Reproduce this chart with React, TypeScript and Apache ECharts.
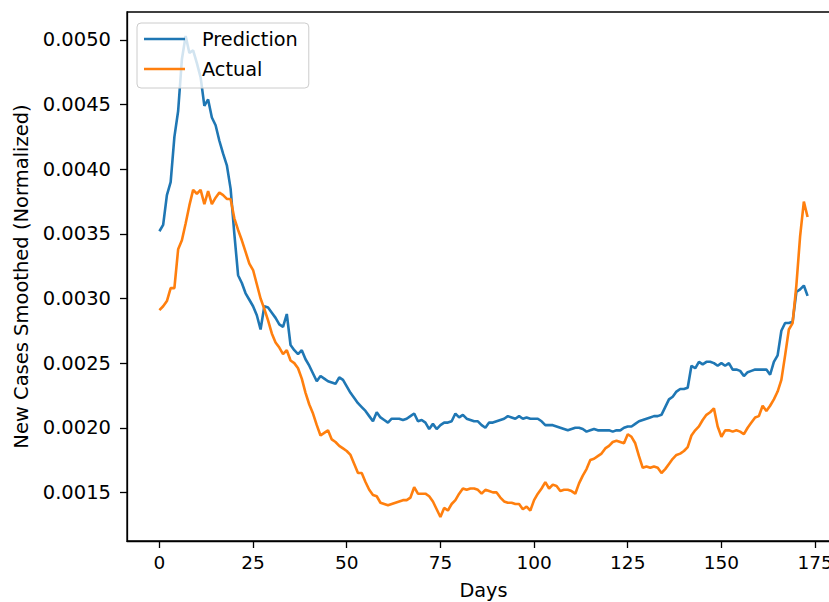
import React, { useEffect, useRef } from "react";
import * as echarts from "echarts";

const prediction: number[] = [
  0.00352, 0.00357, 0.00380, 0.00390, 0.00425, 0.00445, 0.00485, 0.00503, 0.00490, 0.00492,
  0.00482, 0.00471, 0.00449, 0.00454, 0.00440, 0.00434, 0.00422, 0.00412, 0.00403, 0.00385,
  0.00350, 0.00318, 0.00312, 0.00304, 0.00299, 0.00294, 0.00287, 0.00276, 0.00294, 0.00293,
  0.00289, 0.00285, 0.00280, 0.00278, 0.00288, 0.00264, 0.00260, 0.00257, 0.00260, 0.00253,
  0.00248, 0.00242, 0.00236, 0.00240, 0.00238, 0.00236, 0.00235, 0.00234, 0.00239, 0.00237,
  0.00232, 0.00227, 0.00223, 0.00219, 0.00216, 0.00213, 0.00209, 0.00205, 0.00212, 0.00208,
  0.00206, 0.00204, 0.00207, 0.00207, 0.00207, 0.00206, 0.00207, 0.00209, 0.00211, 0.00205,
  0.00206, 0.00204, 0.00199, 0.00203, 0.00199, 0.00202, 0.00204, 0.00204, 0.00205, 0.00211,
  0.00208, 0.00210, 0.00207, 0.00206, 0.00205, 0.00205, 0.00202, 0.00200, 0.00204, 0.00204,
  0.00205, 0.00206, 0.00207, 0.00209, 0.00208, 0.00207, 0.00209, 0.00207, 0.00208, 0.00207,
  0.00207, 0.00207, 0.00205, 0.00202, 0.00202, 0.00202, 0.00201, 0.00200, 0.00199, 0.00198,
  0.00199, 0.00200, 0.00200, 0.00199, 0.00197, 0.00198, 0.00199, 0.00198, 0.00198, 0.00198,
  0.00198, 0.00197, 0.00198, 0.00198, 0.00200, 0.00201, 0.00201, 0.00203, 0.00205, 0.00206,
  0.00207, 0.00208, 0.00209, 0.00209, 0.00210, 0.00216, 0.00222, 0.00224, 0.00228, 0.00230,
  0.00230, 0.00231, 0.00248, 0.00246, 0.00251, 0.00249, 0.00251, 0.00251, 0.00250, 0.00248,
  0.00250, 0.00248, 0.00250, 0.00245, 0.00245, 0.00244, 0.00240, 0.00243, 0.00244, 0.00245,
  0.00245, 0.00245, 0.00245, 0.00241, 0.00251, 0.00256, 0.00275, 0.00281, 0.00281, 0.00282,
  0.00305, 0.00307, 0.00310, 0.00302,
];

const actual: number[] = [
  0.00291, 0.00294, 0.00298, 0.00308, 0.00308, 0.00338, 0.00345, 0.00358, 0.00372, 0.00384,
  0.00381, 0.00384, 0.00373, 0.00383, 0.00373, 0.00378, 0.00382, 0.00380, 0.00377, 0.00377,
  0.00362, 0.00353, 0.00345, 0.00336, 0.00327, 0.00322, 0.00311, 0.00300, 0.00292, 0.00283,
  0.00273, 0.00266, 0.00262, 0.00257, 0.00260, 0.00252, 0.00250, 0.00246, 0.00238, 0.00227,
  0.00218, 0.00211, 0.00202, 0.00194, 0.00196, 0.00198, 0.00191, 0.00189, 0.00186, 0.00184,
  0.00182, 0.00179, 0.00172, 0.00165, 0.00165, 0.00158, 0.00152, 0.00148, 0.00147, 0.00142,
  0.00141, 0.00140, 0.00141, 0.00142, 0.00143, 0.00144, 0.00144, 0.00146, 0.00154, 0.00149,
  0.00149, 0.00149, 0.00147, 0.00143, 0.00137, 0.00131, 0.00138, 0.00136, 0.00141, 0.00144,
  0.00149, 0.00153, 0.00152, 0.00153, 0.00153, 0.00152, 0.00149, 0.00152, 0.00151, 0.00150,
  0.00150, 0.00146, 0.00143, 0.00142, 0.00142, 0.00141, 0.00141, 0.00137, 0.00139, 0.00136,
  0.00144, 0.00149, 0.00153, 0.00158, 0.00153, 0.00156, 0.00155, 0.00151, 0.00152, 0.00152,
  0.00151, 0.00149, 0.00157, 0.00163, 0.00168, 0.00175, 0.00176, 0.00178, 0.00180, 0.00184,
  0.00186, 0.00189, 0.00190, 0.00189, 0.00188, 0.00195, 0.00193, 0.00188, 0.00178, 0.00169,
  0.00170, 0.00169, 0.00170, 0.00169, 0.00165, 0.00168, 0.00172, 0.00176, 0.00179, 0.00180,
  0.00182, 0.00185, 0.00194, 0.00198, 0.00201, 0.00206, 0.00210, 0.00212, 0.00215, 0.00201,
  0.00193, 0.00198, 0.00198, 0.00197, 0.00198, 0.00197, 0.00195, 0.00200, 0.00204, 0.00208,
  0.00209, 0.00217, 0.00213, 0.00217, 0.00222, 0.00228, 0.00237, 0.00256, 0.00276, 0.00281,
  0.00310, 0.00348, 0.00375, 0.00363,
];

const xTicks: number[] = [0, 25, 50, 75, 100, 125, 150, 175];
const yTicks: number[] = [0.0015, 0.002, 0.0025, 0.003, 0.0035, 0.004, 0.0045, 0.005];
const seriesNames: string[] = ["Prediction", "Actual"];
const xTitle = "Days";
const yTitle = "New Cases Smoothed (Normalized)";

const FONT = "DejaVu Sans";

export default function App() {
  const ref = useRef<HTMLDivElement>(null);
  useEffect(() => {
    if (!ref.current) return;
    const chart = echarts.init(ref.current, undefined, { renderer: "svg" });
    const n = prediction.length - 1;
    const xMin = -0.05 * n;
    const xMax = n * 1.05;
    const all = prediction.concat(actual);
    const lo = Math.min(...all);
    const hi = Math.max(...all);
    const r = hi - lo;
    const axisCommon = {
      axisLine: { show: true, onZero: false, lineStyle: { color: "#000", width: 1.3 } },
      axisTick: { show: true, length: 7, lineStyle: { color: "#000", width: 1.3 } },
      splitLine: { show: false },
    };
    chart.setOption({
      animation: false,
      backgroundColor: "#fff",
      textStyle: { fontFamily: FONT },
      grid: {
        left: 127,
        top: 12,
        right: 10,
        bottom: 61,
        show: true,
        borderColor: "#000",
        borderWidth: 1.3,
        containLabel: false,
        outerBoundsMode: "none",
      },
      legend: {
        orient: "vertical",
        left: 137,
        top: 23,
        data: seriesNames.map((name) => ({ name, icon: "rect" })),
        itemWidth: 41,
        itemHeight: 2.6,
        itemGap: 10,
        padding: [6, 11, 9, 7],
        backgroundColor: "rgba(255,255,255,0.8)",
        borderColor: "#cccccc",
        borderWidth: 1,
        borderRadius: 4,
        textStyle: {
          fontFamily: FONT,
          fontSize: 19.3,
          lineHeight: 20,
          color: "#000",
          padding: [0, 0, 0, 12],
        },
      },
      xAxis: {
        type: "value",
        min: xMin,
        max: xMax,
        name: xTitle,
        nameLocation: "middle",
        nameGap: 40,
        nameTextStyle: { fontFamily: FONT, fontSize: 19.3, color: "#000" },
        ...axisCommon,
        axisTick: { ...axisCommon.axisTick, customValues: xTicks },
        axisLabel: {
          customValues: xTicks,
          fontFamily: FONT,
          fontSize: 18.5,
          color: "#000",
          margin: 12,
          formatter: (v: number) => String(Math.round(v)),
        },
      },
      yAxis: {
        type: "value",
        min: lo - 0.05 * r,
        max: hi + 0.05 * r,
        name: yTitle,
        nameLocation: "middle",
        nameGap: 94,
        nameTextStyle: { fontFamily: FONT, fontSize: 19.5, color: "#000" },
        ...axisCommon,
        axisTick: { ...axisCommon.axisTick, customValues: yTicks },
        axisLabel: {
          customValues: yTicks,
          fontFamily: FONT,
          fontSize: 19.5,
          color: "#000",
          margin: 16,
          formatter: (v: number) => v.toFixed(4),
        },
      },
      series: [
        {
          name: seriesNames[0],
          type: "line",
          symbol: "none",
          data: prediction.map((v, i) => [i, v]),
          lineStyle: { color: "#1f77b4", width: 2.6 },
          itemStyle: { color: "#1f77b4" },
        },
        {
          name: seriesNames[1],
          type: "line",
          symbol: "none",
          data: actual.map((v, i) => [i, v]),
          lineStyle: { color: "#ff7f0e", width: 2.6 },
          itemStyle: { color: "#ff7f0e" },
        },
      ],
    });
    return () => chart.dispose();
  }, []);
  return (
    <div
      style={{
        position: "fixed",
        left: 0,
        top: 0,
        width: 829,
        height: 602,
        overflow: "hidden",
        background: "#fff",
      }}
    >
      <div ref={ref} style={{ width: 850, height: 602 }} />
    </div>
  );
}
